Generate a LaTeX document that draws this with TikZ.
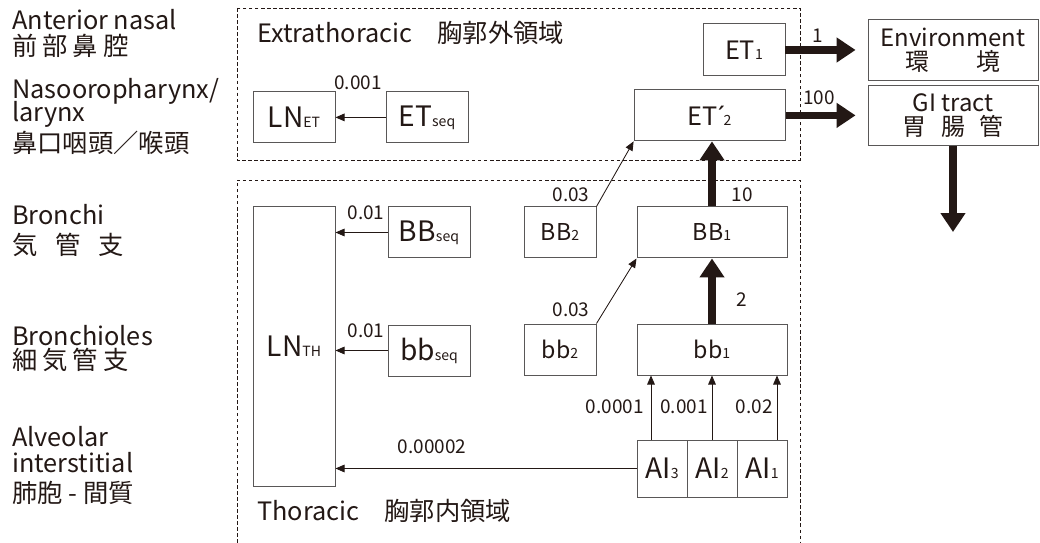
\documentclass[tikz,border=0pt]{standalone}
\usepackage{fontspec}
\setmainfont{Noto Sans CJK JP}
\newfontfamily\latinfont{Noto Sans}
\usetikzlibrary{arrows.meta,calc}
\definecolor{ink}{RGB}{35,24,21}
\definecolor{edge}{RGB}{89,87,87}
\newcommand{\subtxt}[1]{{\fontsize{10}{12}\selectfont #1}}

\begin{document}
\begin{tikzpicture}[
	box/.style={draw=edge, line width=0.7pt, inner sep=0pt, text=ink, font=\fontsize{20}{24}\selectfont},
	etbox/.style={box, font=\fontsize{18}{22}\selectfont},
	midbox/.style={box, font=\fontsize{16.5}{20}\selectfont},
	outbox/.style={box, align=center, font=\fontsize{17}{17}\selectfont},
	sidelabel/.style={anchor=base west, inner sep=0pt, text=ink, font=\fontsize{18}{20}\selectfont},
	rate/.style={inner sep=0pt, text=ink, font=\fontsize{13.5}{16}\selectfont},
	zone/.style={draw=ink, line width=0.6pt, dash pattern=on 2.5pt off 1.8pt},
	flow/.style={draw=ink, line width=0.6pt, -{Triangle[length=6.5pt,width=5.5pt]}},
	bigflow/.style={draw=ink, line width=5pt, -{Triangle[length=13.5pt,width=17pt]}}
	]
	
	\useasboundingbox (0,0) rectangle (26,13.575);
	
	% left column
	\node[sidelabel] (ant) at (0.3,12.825) {Anterior nasal};
	\node[sidelabel] (antj) at (0.3,12.175) {前\hspace{0.2em}部\hspace{0.2em}鼻\hspace{0.2em}腔};
	\node[sidelabel] (naso) at (0.3,11.1) {Nasooropharynx/};
	\node[sidelabel] (lar) at (0.3,10.525) {larynx};
	\node[sidelabel] (nasoj) at (0.3,9.75) {鼻口咽頭／喉頭};
	\node[sidelabel] (bron) at (0.3,7.95) {Bronchi};
	\node[sidelabel] (bronj) at (0.3,7.2) {気\hspace{0.7em}管\hspace{0.7em}支};
	\node[sidelabel] (brl) at (0.3,4.925) {Bronchioles};
	\node[sidelabel] (brlj) at (0.3,4.325) {細\hspace{0.2em}気\hspace{0.2em}管\hspace{0.2em}支};
	\node[sidelabel] (alv) at (0.3,2.4) {Alveolar};
	\node[sidelabel] (int) at (0.3,1.75) {interstitial};
	\node[sidelabel] (alvj) at (0.3,1.0) {肺胞 - 間質};
	
	% regions
	\draw[zone] (5.925,13.375) rectangle (20,9.575);
	\draw[zone] (5.925,0) |- (20,9.075) -- (20,0);
	\node[sidelabel] (extra) at (6.425,12.5) {Extrathoracic\hspace{1em}胸郭外領域};
	\node[sidelabel] (thor) at (6.425,0.55) {Thoracic\hspace{1em}胸郭内領域};
	
	% extrathoracic
	\node[box] (LNET) at (7.35,10.64) [minimum width=2.05cm, minimum height=1.275cm] {LN\subtxt{ET}};
	\node[box] (ETseq) at (10.675,10.64) [minimum width=2.05cm, minimum height=1.275cm] {ET\subtxt{seq}};
	\node[etbox] (ET1) at (18.6,12.325) [minimum width=2.05cm, minimum height=1.3cm] {ET\subtxt{1}};
	\node[etbox] (ET2) at (17.74,10.69) [minimum width=3.775cm, minimum height=1.275cm] {ET{\latinfont ´}\kern-1pt\subtxt{2}};
	
	\node[outbox] (Env) at (23.825,12.3125) [minimum width=4.25cm, minimum height=1.525cm] {Environment\\環\hspace{2em}境};
	\node[outbox] (GI) at (23.825,10.675) [minimum width=4.25cm, minimum height=1.5cm] {GI tract\\胃\hspace{0.6em}腸\hspace{0.6em}管};
	\coordinate (GIout) at (23.825,7.775);
	
	% thoracic
	\node[box] (LNTH) at (7.35,4.9125) [minimum width=2.05cm, minimum height=6.975cm] {LN\subtxt{TH}};
	\node[box] (BBseq) at (10.725,7.7625) [minimum width=2.05cm, minimum height=1.275cm] {BB\subtxt{seq}};
	\node[box] (bbseq) at (10.725,4.8125) [minimum width=2.05cm, minimum height=1.275cm] {bb\subtxt{seq}};
	\node[midbox] (BB2) at (14,7.7625) [minimum width=1.8cm, minimum height=1.275cm] {BB\subtxt{2}};
	\node[midbox] (bb2) at (14,4.8375) [minimum width=1.8cm, minimum height=1.275cm] {bb\subtxt{2}};
	\node[midbox] (BB1) at (17.8,7.7625) [minimum width=3.75cm, minimum height=1.275cm] {BB\subtxt{1}};
	\node[midbox] (bb1) at (17.8,4.8375) [minimum width=3.75cm, minimum height=1.275cm] {bb\subtxt{1}};
	\node[box] (AI3) at (16.55,1.8625) [minimum width=1.25cm, minimum height=1.425cm] {AI\subtxt{3}};
	\node[box] (AI2) at (17.8,1.8625) [minimum width=1.25cm, minimum height=1.425cm] {AI\subtxt{2}};
	\node[box] (AI1) at (19.05,1.8625) [minimum width=1.25cm, minimum height=1.425cm] {AI\subtxt{1}};
	
	\coordinate (a3) at ($(AI3.north)+(-0.275,0)$);
	\coordinate (a2) at (AI2.north);
	\coordinate (a1) at ($(AI1.north)+(0.375,0)$);
	
	% transfers
	\draw[flow] (ETseq.west) -- (LNET.east);
	\draw[flow] (BBseq.west) -- (BBseq.west -| LNTH.east);
	\draw[flow] (bbseq.west) -- (bbseq.west -| LNTH.east);
	\draw[flow] (AI3.west) -- (AI3.west -| LNTH.east);
	\draw[flow] (BB2.north east) -- (ET2.south west);
	\draw[flow] (bb2.north east) -- (BB1.south west);
	\draw[flow] (a3) -- (a3 |- bb1.south);
	\draw[flow] (a2) -- (a2 |- bb1.south);
	\draw[flow] (a1) -- (a1 |- bb1.south);
	
	\draw[bigflow] (bb1.north) -- (BB1.south);
	\draw[bigflow] (BB1.north) -- (BB1.north |- ET2.south);
	\draw[bigflow, shorten >=8.5pt] (ET1.east) -- (ET1.east -| Env.west);
	\draw[bigflow, shorten >=8.5pt] (ET2.east) -- (ET2.east -| GI.west);
	\draw[bigflow] (GI.south) -- (GIout);
	
	% rates
	\node[rate] (r1) at (8.95,11.5) {0.001};
	\node[rate] (r2) at (20.45,12.675) {1};
	\node[rate] (r3) at (20.475,11.125) {100};
	\node[rate] (r4) at (18.55,8.7) {10};
	\node[rate] (r5) at (14.275,8.7) {0.03};
	\node[rate] (r6) at (9.15,8.25) {0.01};
	\node[rate] (r7) at (14.275,5.825) {0.03};
	\node[rate] (r8) at (18.55,6.075) {2};
	\node[rate] (r9) at (9.15,5.3) {0.01};
	\node[rate, anchor=east] (r10) at (16.1,3.4) {0.0001};
	\node[rate, anchor=east] (r11) at (17.7,3.4) {0.001};
	\node[rate, anchor=east] (r12) at (19.325,3.4) {0.02};
	\node[rate] (r13) at (10.8,2.4) {0.00002};
	
\end{tikzpicture}
\end{document}
